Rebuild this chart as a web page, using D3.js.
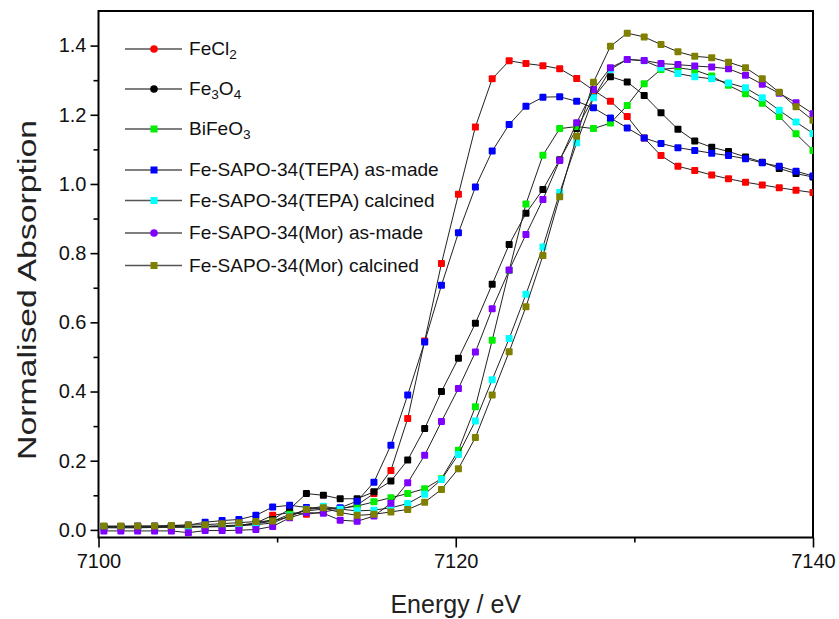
<!DOCTYPE html>
<html>
<head>
<meta charset="utf-8">
<script src="https://cdn.jsdelivr.net/npm/d3@7"></script>
<style>
  html, body { margin: 0; padding: 0; background: #fff; }
  svg { display: block; font-family: "Liberation Sans", Arial, sans-serif; }
</style>
</head>
<body>
<svg id="chart" width="839" height="619"></svg>
<script>
// Fe K-edge XANES, normalised absorption vs photon energy (eV)
const energy = [7100.30, 7101.25, 7102.19, 7103.14, 7104.08, 7105.03, 7105.97, 7106.92, 7107.86, 7108.81,
  7109.75, 7110.70, 7111.64, 7112.59, 7113.53, 7114.48, 7115.42, 7116.37, 7117.31, 7118.26,
  7119.20, 7120.15, 7121.10, 7122.04, 7122.99, 7123.93, 7124.88, 7125.82, 7126.77, 7127.71,
  7128.66, 7129.60, 7130.55, 7131.49, 7132.44, 7133.38, 7134.33, 7135.27, 7136.22, 7137.16,
  7138.11, 7139.05, 7140.00];

const feCl2 = [0.008, 0.008, 0.008, 0.008, 0.009, 0.009, 0.010, 0.011, 0.013, 0.020,
  0.042, 0.050, 0.045, 0.052, 0.060, 0.072, 0.105, 0.172, 0.322, 0.546,
  0.770, 0.970, 1.165, 1.304, 1.356, 1.348, 1.342, 1.333, 1.305, 1.271,
  1.239, 1.195, 1.133, 1.082, 1.051, 1.039, 1.026, 1.015, 1.005, 0.997,
  0.989, 0.982, 0.975];

const fe3o4 = [0.009, 0.009, 0.009, 0.009, 0.009, 0.009, 0.009, 0.009, 0.012, 0.018,
  0.030, 0.060, 0.105, 0.100, 0.090, 0.090, 0.110, 0.141, 0.202, 0.293,
  0.400, 0.496, 0.597, 0.710, 0.825, 0.915, 0.984, 1.070, 1.160, 1.250,
  1.310, 1.295, 1.256, 1.206, 1.158, 1.124, 1.106, 1.094, 1.078, 1.063,
  1.045, 1.030, 1.020];

const biFeO3 = [0.008, 0.008, 0.008, 0.008, 0.009, 0.009, 0.010, 0.012, 0.014, 0.018,
  0.025, 0.045, 0.055, 0.060, 0.062, 0.069, 0.081, 0.093, 0.105, 0.119,
  0.148, 0.230, 0.356, 0.548, 0.750, 0.942, 1.083, 1.160, 1.166, 1.160,
  1.176, 1.227, 1.290, 1.331, 1.336, 1.329, 1.312, 1.285, 1.261, 1.233,
  1.195, 1.145, 1.097];

const tepaAsMade = [0.010, 0.010, 0.011, 0.011, 0.012, 0.014, 0.022, 0.027, 0.030, 0.042,
  0.066, 0.071, 0.065, 0.062, 0.064, 0.083, 0.138, 0.245, 0.390, 0.543,
  0.707, 0.859, 0.991, 1.095, 1.172, 1.225, 1.251, 1.252, 1.239, 1.220,
  1.191, 1.162, 1.133, 1.117, 1.105, 1.097, 1.089, 1.082, 1.073, 1.061,
  1.051, 1.037, 1.023];

const tepaCalcined = [0.006, 0.006, 0.006, 0.007, 0.008, 0.008, 0.009, 0.010, 0.012, 0.015,
  0.020, 0.040, 0.060, 0.068, 0.060, 0.055, 0.057, 0.064, 0.076, 0.103,
  0.146, 0.218, 0.315, 0.434, 0.553, 0.681, 0.818, 0.975, 1.119, 1.249,
  1.331, 1.360, 1.356, 1.336, 1.319, 1.310, 1.304, 1.292, 1.278, 1.249,
  1.213, 1.179, 1.146];

const morAsMade = [-0.003, -0.003, -0.003, -0.003, -0.003, -0.008, -0.002, -0.002, -0.001, 0.001,
  0.010, 0.035, 0.050, 0.048, 0.028, 0.025, 0.040, 0.077, 0.136, 0.216,
  0.313, 0.409, 0.514, 0.639, 0.751, 0.854, 0.955, 1.068, 1.177, 1.273,
  1.336, 1.360, 1.357, 1.348, 1.345, 1.341, 1.338, 1.333, 1.314, 1.288,
  1.262, 1.235, 1.203];

const morCalcined = [0.011, 0.011, 0.011, 0.011, 0.013, 0.014, 0.015, 0.018, 0.021, 0.024,
  0.026, 0.038, 0.059, 0.064, 0.050, 0.042, 0.045, 0.052, 0.059, 0.080,
  0.117, 0.177, 0.267, 0.390, 0.515, 0.645, 0.793, 0.963, 1.138, 1.294,
  1.398, 1.436, 1.425, 1.403, 1.382, 1.369, 1.365, 1.352, 1.336, 1.304,
  1.265, 1.223, 1.184];

// Legend labels as [text, isSubscript] pieces
const seriesLabels = [
  [["FeCl", false], ["2", true]],
  [["Fe", false], ["3", true], ["O", false], ["4", true]],
  [["BiFeO", false], ["3", true]],
  [["Fe-SAPO-34(TEPA) as-made", false]],
  [["Fe-SAPO-34(TEPA) calcined", false]],
  [["Fe-SAPO-34(Mor) as-made", false]],
  [["Fe-SAPO-34(Mor) calcined", false]]
];
const seriesValues = [feCl2, fe3o4, biFeO3, tepaAsMade, tepaCalcined, morAsMade, morCalcined];
const seriesColors = ["#ff0000", "#000000", "#00ee00", "#0000ff", "#00ffff", "#8000ff", "#808000"];
const legendShapes = ["circle", "circle", "square", "square", "square", "circle", "square"];

const yTicks = [0.0, 0.2, 0.4, 0.6, 0.8, 1.0, 1.2, 1.4];
const yMinorTicks = [0.1, 0.3, 0.5, 0.7, 0.9, 1.1, 1.3];
const xTicks = [7100, 7120, 7140];
const xMinorTicks = [7110, 7130];

const svg = d3.select("#chart");
const plotLeft = 98.5, plotRight = 813, plotTop = 11, plotBottom = 537.5;

const x = d3.scaleLinear().domain([7100, 7140]).range([plotLeft, plotRight]);
const y = d3.scaleLinear().domain([-0.022, 1.5]).range([plotBottom, plotTop]);

svg.append("defs").append("clipPath").attr("id", "plotClip")
  .append("rect").attr("x", plotLeft).attr("y", plotTop)
  .attr("width", plotRight - plotLeft).attr("height", plotBottom - plotTop);

// Axes
svg.append("g").attr("transform", `translate(${plotLeft},0)`)
  .call(d3.axisLeft(y).tickValues(yTicks).tickSize(8).tickPadding(4).tickFormat(d3.format(".1f")));
svg.append("g").attr("transform", `translate(${plotLeft},0)`)
  .call(d3.axisLeft(y).tickValues(yMinorTicks).tickSize(5).tickFormat(""));
svg.append("g").attr("transform", `translate(0,${plotBottom})`)
  .call(d3.axisBottom(x).tickValues(xTicks).tickSize(10).tickPadding(6).tickFormat(d3.format("d")));
svg.append("g").attr("transform", `translate(0,${plotBottom})`)
  .call(d3.axisBottom(x).tickValues(xMinorTicks).tickSize(5).tickFormat(""));

svg.selectAll(".domain").remove();
svg.selectAll(".tick line").attr("stroke", "#000").attr("stroke-width", 1.6);
svg.selectAll(".tick text").attr("fill", "#111").style("font-size", "20px")
  .style("font-family", "'Liberation Sans', Arial, sans-serif");

// Frame
svg.append("rect").attr("x", plotLeft).attr("y", plotTop)
  .attr("width", plotRight - plotLeft).attr("height", plotBottom - plotTop)
  .attr("fill", "none").attr("stroke", "#000").attr("stroke-width", 2);

// Axis titles
svg.append("text").attr("x", (plotLeft + plotRight) / 2).attr("y", 613)
  .attr("text-anchor", "middle").style("font-size", "25px").attr("fill", "#222")
  .text("Energy / eV");
svg.append("text").attr("transform", `translate(36,290) rotate(-90)`)
  .attr("text-anchor", "middle").style("font-size", "25px").attr("fill", "#222")
  .attr("textLength", 340).attr("lengthAdjust", "spacingAndGlyphs")
  .text("Normalised Absorption");

// Series: connecting line, then square symbols
const plot = svg.append("g").attr("clip-path", "url(#plotClip)");
const line = d3.line().x((d, i) => x(energy[i])).y(d => y(d));
const ms = 7;
seriesValues.forEach((vals, s) => {
  const g = plot.append("g");
  g.append("path").datum(vals).attr("d", line)
    .attr("fill", "none").attr("stroke", "#222").attr("stroke-width", 1);
  g.selectAll("rect").data(vals).join("rect")
    .attr("x", (d, i) => x(energy[i]) - ms / 2)
    .attr("y", d => y(d) - ms / 2)
    .attr("width", ms).attr("height", ms).attr("rx", 1)
    .attr("fill", seriesColors[s]);
});

// Legend
const legendRows = [49, 89, 129, 170, 200.5, 233, 265.5];
const legend = svg.append("g");
seriesLabels.forEach((parts, s) => {
  const cy = legendRows[s];
  legend.append("line").attr("x1", 125).attr("x2", 182).attr("y1", cy).attr("y2", cy)
    .attr("stroke", "#555").attr("stroke-width", 1.3);
  if (legendShapes[s] === "circle") {
    legend.append("circle").attr("cx", 154).attr("cy", cy).attr("r", 3.8).attr("fill", seriesColors[s]);
  } else {
    legend.append("rect").attr("x", 154 - 3.5).attr("y", cy - 3.5).attr("width", 7).attr("height", 7)
      .attr("fill", seriesColors[s]);
  }
  const t = legend.append("text")
    .attr("transform", `translate(189,${cy + 6}) scale(1.09,1)`)
    .style("font-size", "17.5px").attr("fill", "#111");
  let prevSub = false;
  parts.forEach(([str, sub]) => {
    const span = t.append("tspan").text(str);
    if (sub) { span.style("font-size", "12.5px").attr("dy", 4); }
    else if (prevSub) { span.attr("dy", -4); }
    prevSub = sub;
  });
});
</script>
</body>
</html>
